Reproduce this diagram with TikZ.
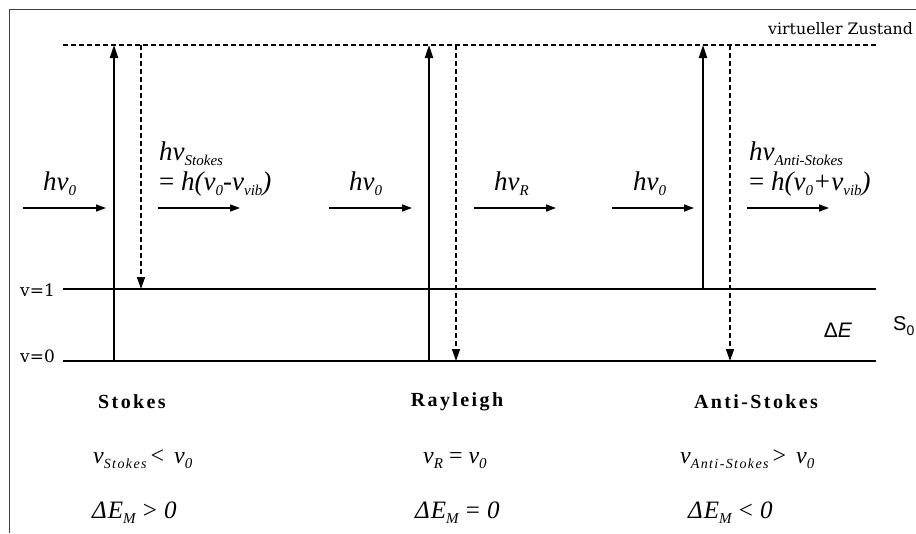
\documentclass[tikz,border=0pt]{standalone}
\usepackage{fontspec}
\setmainfont{Liberation Serif}
\newfontfamily\dvserif{DejaVu Serif}
\newfontfamily\libsans{Liberation Sans}
\usetikzlibrary{arrows.meta}
\newcommand\fsz[1]{\fontsize{#1}{#1}\selectfont}
\newcommand\lsub[1]{\raisebox{-0.22em}{\fsz{15}\itshape #1}}
\newcommand\bsub[1]{\raisebox{-0.22em}{\fsz{14}\itshape\addfontfeature{LetterSpace=10}#1}}
\begin{document}
\begin{tikzpicture}[x=1pt,y=-1pt,
  lvl/.style={line width=1.3pt},
  vdash/.style={line width=1.5pt,dash pattern=on 5pt off 3pt},
  upar/.style={line width=2pt,-{Triangle[length=13pt,width=8pt]}},
  downar/.style={vdash,-{Triangle[length=12pt,width=8pt]}},
  harr/.style={line width=1.5pt,-{Triangle[length=10pt,width=7pt]}},
  framel/.style={line width=1pt,draw=black!75},
  big/.style={inner sep=0pt,font=\fsz{27}\itshape},
  eq/.style={inner sep=0pt,font=\fsz{24}\itshape},
  deq/.style={inner sep=0pt,font=\fsz{25}\itshape\addfontfeature{LetterSpace=4}},
  title/.style={inner sep=0pt,font=\fsz{20}\bfseries\addfontfeature{LetterSpace=12}},
  lbl/.style={inner sep=0pt}]
\useasboundingbox (0,0) rectangle (916,533);
\clip (0,0) rectangle (916,533);
% frame
\coordinate (fTR) at (916,9);
\coordinate (fTL) at (9,9);
\coordinate (fBL) at (9,533);
\draw[framel] (fTR) -- (fTL) -- (fBL);
% levels
\coordinate (vL) at (63,45);   \coordinate (vR) at (876,45);
\coordinate (oneL) at (63,289); \coordinate (oneR) at (876,289);
\coordinate (zeroL) at (63,361); \coordinate (zeroR) at (876,361);
\draw[vdash] (vL) -- (vR);
\draw[lvl] (oneL) -- (oneR);
\draw[lvl] (zeroL) -- (zeroR);
% vertical transitions
\coordinate (su0) at (114,361); \coordinate (su1) at (114,45);
\coordinate (sd0) at (141,45);  \coordinate (sd1) at (141,289);
\coordinate (ru0) at (429,361); \coordinate (ru1) at (429,45);
\coordinate (rd0) at (456,45);  \coordinate (rd1) at (456,361);
\coordinate (au0) at (703,289); \coordinate (au1) at (703,45);
\coordinate (ad0) at (730,45);  \coordinate (ad1) at (730,361);
\draw[upar] (su0) -- (su1);
\draw[upar] (ru0) -- (ru1);
\draw[upar] (au0) -- (au1);
\draw[downar] (sd0) -- (sd1);
\draw[downar] (rd0) -- (rd1);
\draw[downar] (ad0) -- (ad1);
% horizontal photon arrows
\coordinate (h1a) at (23,208);  \coordinate (h1b) at (106,208);
\coordinate (h2a) at (158,208); \coordinate (h2b) at (240,208);
\coordinate (h3a) at (329,208); \coordinate (h3b) at (412,208);
\coordinate (h4a) at (474,208); \coordinate (h4b) at (556,208);
\coordinate (h5a) at (612,208); \coordinate (h5b) at (694,208);
\coordinate (h6a) at (747,208); \coordinate (h6b) at (829,208);
\foreach \i in {1,...,6}{\draw[harr] (h\i a) -- (h\i b);}
% labels on arrows
\node[big,anchor=base west] (n1) at (43,190) {hν\lsub{0}};
\node[big,anchor=base west] (n2) at (349,190) {hν\lsub{0}};
\node[big,anchor=base west] (n3) at (633,190) {hν\lsub{0}};
\node[big,anchor=base west] (nR) at (494,190) {hν\lsub{R}};
\node[big,anchor=base west] (nS) at (159,160) {hν\lsub{Stokes}};
\node[big,anchor=base west] (nSe) at (159,190) {{\upshape =} h(ν\lsub{0}-ν\lsub{vib})};
\node[big,anchor=base west] (nA) at (749,160) {hν\lsub{Anti-Stokes}};
\node[big,anchor=base west] (nAe) at (749,190) {{\upshape =} h(ν\lsub{0}+ν\lsub{vib})};
% level labels
\node[lbl,anchor=west,font=\dvserif\fsz{15.8}] (virt) at (768,29) {virtueller Zustand};
\node[lbl,anchor=west,font=\dvserif\fsz{17}] (v1) at (20,290) {v=1};
\node[lbl,anchor=west,font=\dvserif\fsz{17}] (v0) at (20,356) {v=0};
\node[lbl,font=\libsans\fsz{21}] (dE) at (838,330) {Δ\textit{E}};
\node[lbl,anchor=west,font=\libsans\fsz{20}] (S0) at (893,326) {S\raisebox{-0.25em}{\fsz{14}0}};
% bottom texts
\node[title] (tS) at (132,402) {Stokes};
\node[title] (tR) at (457,402) {Rayleigh};
\node[title] (tA) at (756,402) {Anti-Stokes};
\node[eq,anchor=base west] (cS) at (93,463) {ν\bsub{Stokes}\,{\upshape <}\, ν\lsub{0}};
\node[eq,anchor=base west] (cR) at (423,463) {ν\lsub{R} {\upshape =} ν\lsub{0}};
\node[eq,anchor=base west] (cA) at (680,463) {ν\bsub{Anti-Stokes}\,{\upshape >}\, ν\lsub{0}};
\node[deq,anchor=base west] (eS) at (92,518) {ΔE\lsub{M} {\upshape >} 0};
\node[deq,anchor=base west] (eR) at (415,518) {ΔE\lsub{M} {\upshape =} 0};
\node[deq,anchor=base west] (eA) at (688,518) {ΔE\lsub{M} {\upshape <} 0};
\end{tikzpicture}
\end{document}
